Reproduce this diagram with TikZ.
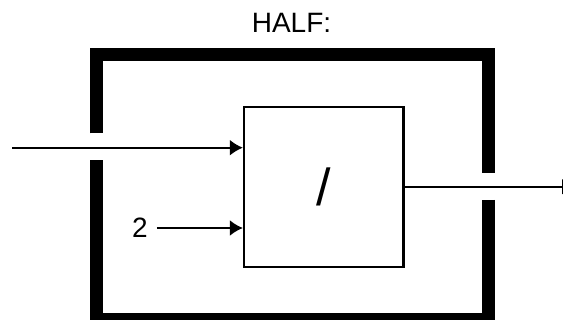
\documentclass[tikz,border=0pt]{standalone}
\usepackage{fontspec}
\setmainfont{Liberation Sans}
\usepackage{tikz}
\usetikzlibrary{arrows.meta,positioning,calc}

\begin{document}
\begin{tikzpicture}[x=1pt, y=-1pt,
    block/.style={rectangle, draw, line width=2.2pt, minimum width=159.5pt, minimum height=160pt, inner sep=0pt, font=\fontsize{52}{52}\selectfont},
    label/.style={inner sep=0pt, font=\fontsize{28}{30}\selectfont},
    frame/.style={draw, line width=13pt, line cap=butt, line join=miter},
    line/.style={draw, -{Latex[length=13pt,width=16pt]}, line width=2.2pt}]
    \useasboundingbox (0,0) rectangle (563,320);

    % Title
    \node [label] (half) at (291.5,22.8) {HALF:};

    % Outer frame with gaps for input and output
    \draw [frame] (96,133.3) -- (96,55) -- (488,55) -- (488,173.3);
    \draw [frame] (488,200) -- (488,319.5) -- (96,319.5) -- (96,160);

    % Divider block
    \node [block] (div) at (323.75,186.7) {/};
    \node [label] (two) at (140,228) {2};
    \coordinate (in) at (12,147.7);
    \coordinate (out) at (575,186.7);

    % Connectors
    \draw [line] (in) -- (in -| div.west);
    \draw [line, shorten <=9pt] (two.east) -- (two.east -| div.west);
    \draw [line] (div.east) -- (out);
\end{tikzpicture}
\end{document}
